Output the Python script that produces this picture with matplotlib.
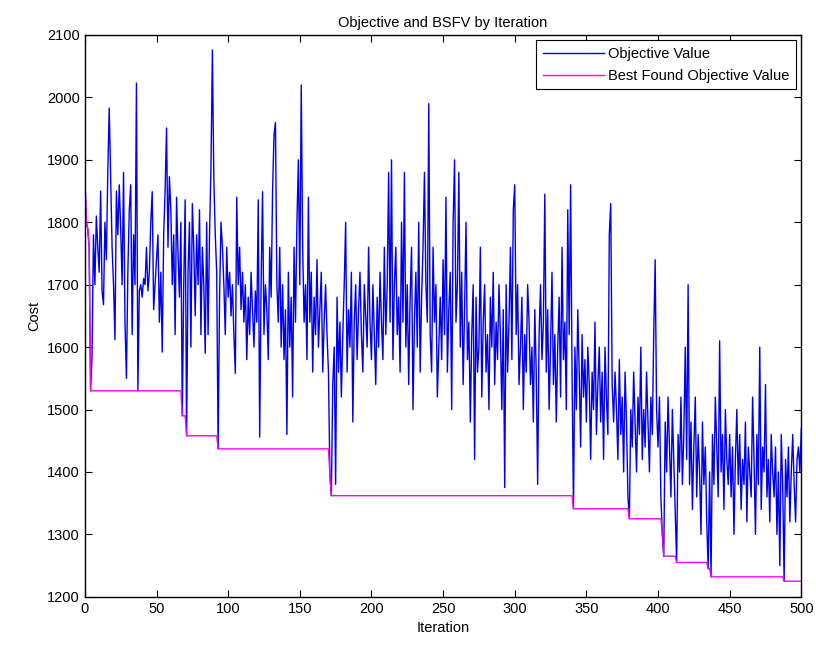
import matplotlib
matplotlib.use("Agg")
import matplotlib.pyplot as plt
import numpy as np

# objective value per iteration (iterations 0..500)
objective = [
    1875, 1800, 1790, 1760, 1530, 1585, 1780, 1700, 1810, 1760,
    1720, 1850, 1690, 1668, 1800, 1740, 1880, 1983, 1870, 1760,
    1700, 1612, 1850, 1780, 1860, 1790, 1700, 1880, 1640, 1550,
    1720, 1820, 1860, 1620, 1780, 1700, 2023, 1530, 1690, 1700,
    1680, 1710, 1700, 1760, 1690, 1720, 1800, 1849, 1660, 1700,
    1740, 1780, 1640, 1720, 1592, 1780, 1850, 1951, 1760, 1873,
    1820, 1700, 1780, 1620, 1840, 1750, 1680, 1800, 1490, 1700,
    1836, 1458, 1720, 1800, 1600, 1830, 1760, 1650, 1780, 1700,
    1820, 1620, 1760, 1700, 1590, 1800, 1620, 1780, 1887, 2076,
    1870, 1780, 1720, 1437, 1680, 1800, 1760, 1700, 1620, 1760,
    1680, 1720, 1650, 1700, 1620, 1558, 1840, 1700, 1760, 1660,
    1720, 1640, 1700, 1580, 1680, 1620, 1720, 1660, 1600, 1690,
    1640, 1836, 1456, 1700, 1849, 1620, 1700, 1660, 1580, 1760,
    1680, 1850, 1940, 1960, 1700, 1640, 1760, 1600, 1700, 1580,
    1660, 1460, 1720, 1600, 1680, 1520, 1760, 1640, 1800, 1900,
    1700, 2020, 1760, 1640, 1700, 1580, 1840, 1640, 1720, 1560,
    1680, 1620, 1740, 1600, 1660, 1720, 1560, 1640, 1700, 1620,
    1560, 1395, 1362, 1540, 1600, 1380, 1680, 1560, 1640, 1520,
    1620, 1700, 1800, 1560, 1660, 1600, 1720, 1480, 1640, 1700,
    1580, 1660, 1720, 1620, 1560, 1700, 1650, 1600, 1760, 1640,
    1580, 1700, 1620, 1540, 1680, 1600, 1720, 1640, 1580, 1760,
    1620, 1700, 1880, 1640, 1900, 1580, 1700, 1760, 1620, 1680,
    1560, 1800, 1640, 1880, 1600, 1700, 1540, 1680, 1760, 1500,
    1640, 1720, 1600, 1800, 1560, 1680, 1760, 1880, 1700, 1640,
    1990, 1620, 1560, 1760, 1640, 1700, 1520, 1600, 1680, 1580,
    1740, 1620, 1840, 1560, 1660, 1720, 1500, 1800, 1900, 1640,
    1700, 1880, 1600, 1720, 1540, 1660, 1800, 1580, 1640, 1480,
    1620, 1700, 1420, 1680, 1560, 1600, 1760, 1520, 1640, 1700,
    1560, 1620, 1500, 1680, 1600, 1720, 1540, 1640, 1580, 1700,
    1620, 1500, 1660, 1375, 1700, 1560, 1640, 1760, 1580, 1820,
    1860, 1620, 1700, 1540, 1600, 1680, 1500, 1620, 1560, 1700,
    1640, 1540, 1600, 1480, 1660, 1560, 1380, 1620, 1700, 1580,
    1640, 1845, 1560, 1660, 1500, 1600, 1720, 1540, 1620, 1480,
    1600, 1680, 1520, 1760, 1580, 1640, 1500, 1820, 1620, 1860,
    1560, 1341, 1600, 1500, 1660, 1560, 1440, 1620, 1520, 1580,
    1480, 1600, 1540, 1420, 1560, 1500, 1640, 1460, 1540, 1600,
    1480, 1560, 1420, 1600, 1520, 1460, 1780, 1830, 1540, 1480,
    1560, 1500, 1420, 1580, 1460, 1520, 1400, 1560, 1480, 1360,
    1325, 1500, 1440, 1560, 1480, 1400, 1520, 1460, 1600, 1420,
    1500, 1440, 1560, 1480, 1400, 1520, 1460, 1620, 1740, 1500,
    1440, 1520, 1360, 1300, 1265, 1480, 1400, 1520, 1440, 1360,
    1500, 1420, 1340, 1255, 1460, 1400, 1520, 1380, 1460, 1600,
    1420, 1700, 1380, 1480, 1340, 1440, 1520, 1360, 1460, 1400,
    1300, 1480, 1380, 1440, 1320, 1245, 1400, 1232, 1460, 1380,
    1520, 1440, 1360, 1610, 1400, 1460, 1340, 1500, 1420, 1380,
    1460, 1360, 1440, 1300, 1420, 1500, 1380, 1460, 1340, 1420,
    1380, 1480, 1320, 1440, 1400, 1360, 1520, 1420, 1300, 1460,
    1380, 1600, 1340, 1440, 1400, 1540, 1360, 1420, 1320, 1460,
    1400, 1360, 1440, 1300, 1400, 1250, 1460, 1380, 1225, 1420,
    1360, 1440, 1320, 1400, 1460, 1380, 1320, 1420, 1440, 1400,
    1470,
]
iterations = np.arange(len(objective))
# best found so far = running minimum of the objective
best_found = np.minimum.accumulate(objective)

plt.rcParams["font.family"] = ["Liberation Sans", "DejaVu Sans"]

fig = plt.figure(figsize=(8.16, 6.48), dpi=100)
ax = fig.add_axes([0.104, 0.079, 0.878, 0.867])

ax.plot(iterations, objective, color="#0000ee", lw=1.0, label="Objective Value")
ax.plot(iterations, best_found, color="#ff00ff", lw=1.0, label="Best Found Objective Value")

ax.set_xlim(0, 500)
ax.set_ylim(1200, 2100)
ax.set_xticks(np.arange(0, 501, 50))
ax.set_yticks(np.arange(1200, 2101, 100))
ax.tick_params(direction="in", top=True, right=True, labelsize=10.5, length=5)
for s in ax.spines.values():
    s.set_linewidth(1.0)

ax.set_xlabel("Iteration", fontsize=10.5)
ax.set_ylabel("Cost", fontsize=10.5)
ax.set_title("Objective and BSFV by Iteration", fontsize=10.5)

leg = ax.legend(loc="upper right", fontsize=10.5, fancybox=False, framealpha=1,
                edgecolor="black", borderaxespad=0.35, handlelength=4.2,
                labelspacing=0.55, borderpad=0.45, handletextpad=0.3)
leg.get_frame().set_linewidth(0.8)

fig.savefig("out.png", dpi=100)
